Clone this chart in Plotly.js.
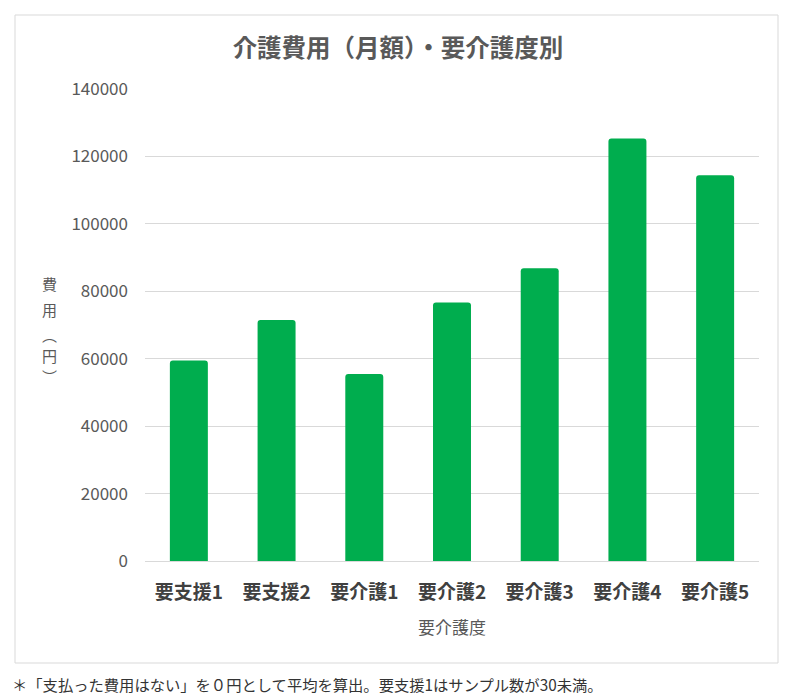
<!DOCTYPE html>
<html>
<head>
<meta charset="utf-8">
<script src="https://cdn.plot.ly/plotly-3.0.1.min.js"></script>
<style>
html,body{margin:0;padding:0;background:#fff;}
#chart{width:800px;height:696px;}
</style>
</head>
<body>
<div id="chart"></div>
<script>
const categories = ["要支援1","要支援2","要介護1","要介護2","要介護3","要介護4","要介護5"];
const costValues = [59500, 71500, 55500, 76700, 86800, 125300, 114400];
const yTickValues = [0, 20000, 40000, 60000, 80000, 100000, 120000, 140000];
const yTitleChars = ["費", "用", "︵", "円", "︶"];

const FONT = '"Noto Sans CJK JP", "Noto Sans", sans-serif';
const L = 145, R = 41, T = 89, B = 135;
const PW = 800 - L - R, PH = 696 - T - B;
const px = x => (x - L) / PW;
const py = y => (696 - B - y) / PH;

const trace = {
  type: 'bar',
  x: categories,
  y: costValues,
  marker: {color: '#00AD4E', cornerradius: 3},
  hoverinfo: 'x+y'
};

const yTitleRows = [283, 309, 334, 356, 377];
const yTitleAnnotations = yTitleChars.map((ch, i) => ({
  text: ch,
  xref: 'paper', yref: 'paper', x: px(50), y: py(yTitleRows[i]),
  xanchor: 'center', yanchor: 'middle', showarrow: false,
  font: {family: FONT, size: 15, color: '#595959'}
}));

const layout = {
  width: 800, height: 696,
  margin: {l: L, r: R, t: T, b: B},
  paper_bgcolor: '#fff', plot_bgcolor: '#fff',
  font: {family: FONT, color: '#595959'},
  bargap: 0.567,
  showlegend: false,
  title: {
    text: '<b>介護費用（月額）・要介護度別</b>',
    font: {family: FONT, size: 24.5, color: '#595959'},
    x: px(398), xref: 'paper', xanchor: 'center',
    y: 1 - 48/696, yref: 'container', yanchor: 'middle'
  },
  xaxis: {
    type: 'category',
    tickfont: {family: FONT, size: 19, color: '#404040'},
    tickprefix: '<b>', ticksuffix: '</b>',
    showgrid: false,
    showline: true, linecolor: '#d9d9d9', linewidth: 1,
    ticks: '', ticklen: 0,
    ticklabelstandoff: 14,
    title: {text: '要介護度', font: {family: FONT, size: 17, color: '#595959'}, standoff: 19},
    fixedrange: true
  },
  yaxis: {
    range: [0, 140000],
    tickvals: yTickValues,
    ticktext: yTickValues.map(String),
    tickfont: {family: FONT, size: 17, color: '#595959'},
    showgrid: true, gridcolor: '#d9d9d9', gridwidth: 1,
    zeroline: false, showline: false,
    ticks: '', ticklabelstandoff: 16,
    fixedrange: true
  },
  shapes: [{
    type: 'rect', xref: 'paper', yref: 'paper',
    x0: px(15), x1: px(778), y0: py(663), y1: py(15),
    line: {color: '#d9d9d9', width: 1}, fillcolor: 'rgba(0,0,0,0)', layer: 'below'
  }],
  annotations: yTitleAnnotations.concat([
    {
      text: '＊「支払った費用はない」を０円として平均を算出。要支援1はサンプル数が30未満。',
      xref: 'paper', yref: 'paper', x: px(10), y: py(684),
      xanchor: 'left', yanchor: 'middle', showarrow: false,
      font: {family: FONT, size: 15.3, color: '#333333'}
    }
  ])
};

Plotly.newPlot('chart', [trace], layout, {displayModeBar: false, staticPlot: true});
</script>
</body>
</html>
